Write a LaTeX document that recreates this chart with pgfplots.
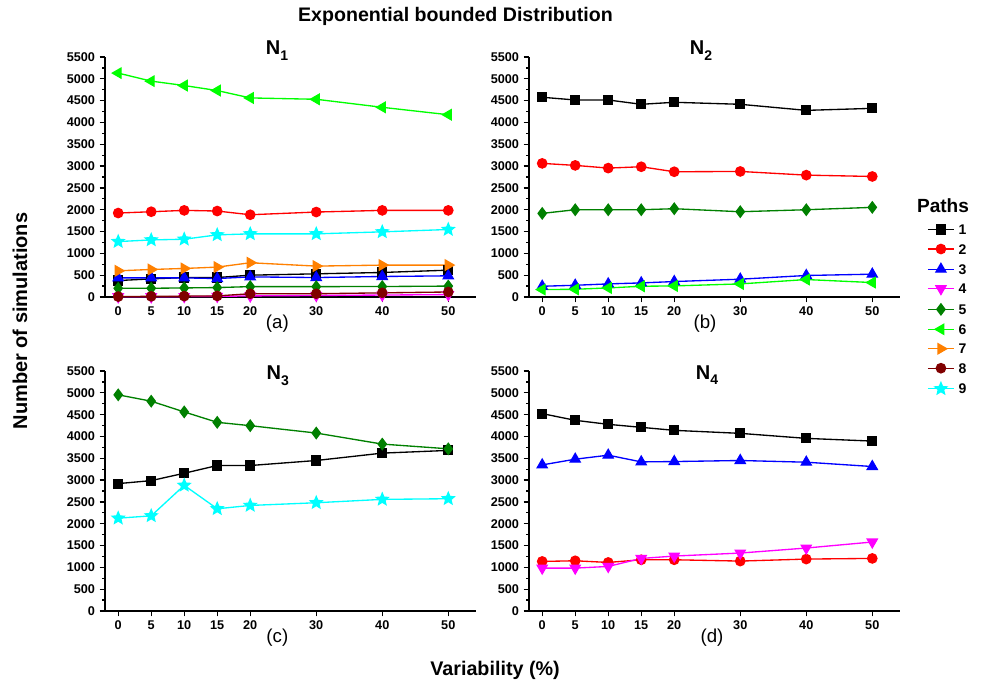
\documentclass[border=0pt]{standalone}
\usepackage{fontspec}
\setmainfont{Liberation Sans}
\usepackage{pgfplots}
\usepackage{pgfplotstable}
\pgfplotsset{compat=1.18}
\usetikzlibrary{plotmarks}

\definecolor{c1}{RGB}{0,0,0}
\definecolor{c2}{RGB}{255,0,0}
\definecolor{c3}{RGB}{0,0,255}
\definecolor{c4}{RGB}{255,0,255}
\definecolor{c5}{RGB}{0,128,0}
\definecolor{c6}{RGB}{0,255,0}
\definecolor{c7}{RGB}{255,128,0}
\definecolor{c8}{RGB}{128,0,0}
\definecolor{c9}{RGB}{0,255,255}

% filled five-pointed star
\pgfdeclareplotmark{fstar}{%
  \pgfpathmoveto{\pgfpointpolar{90}{\pgfplotmarksize}}%
  \pgfpathlineto{\pgfpointpolar{126}{0.45\pgfplotmarksize}}%
  \pgfpathlineto{\pgfpointpolar{162}{\pgfplotmarksize}}%
  \pgfpathlineto{\pgfpointpolar{198}{0.45\pgfplotmarksize}}%
  \pgfpathlineto{\pgfpointpolar{234}{\pgfplotmarksize}}%
  \pgfpathlineto{\pgfpointpolar{270}{0.45\pgfplotmarksize}}%
  \pgfpathlineto{\pgfpointpolar{306}{\pgfplotmarksize}}%
  \pgfpathlineto{\pgfpointpolar{342}{0.45\pgfplotmarksize}}%
  \pgfpathlineto{\pgfpointpolar{18}{\pgfplotmarksize}}%
  \pgfpathlineto{\pgfpointpolar{54}{0.45\pgfplotmarksize}}%
  \pgfpathclose
  \pgfusepathqfillstroke}

% N1
\pgfplotstableread{
x  p1  p2   p3  p4 p5  p6   p7  p8  p9
0  377 1924 438 5  200 5131 600 10  1270
5  415 1954 438 5  200 4947 631 15  1308
10 446 1985 438 10 208 4846 654 20  1324
15 446 1970 423 15 216 4731 685 25  1424
20 500 1885 461 25 238 4562 785 75  1447
30 531 1947 446 35 238 4531 708 75  1447
40 562 1985 470 45 240 4347 731 95  1493
50 615 1985 485 55 250 4177 731 115 1547
}\tabA
% N2
\pgfplotstableread{
x  p1   p2   p3  p5   p6
0  4577 3062 246 1916 170
5  4515 3016 269 2000 177
10 4515 2954 300 2000 208
15 4416 2985 323 2000 246
20 4462 2870 354 2023 254
30 4416 2877 408 1954 300
40 4277 2793 493 2000 400
50 4323 2762 523 2054 331
}\tabB
% N3
\pgfplotstableread{
x  p1   p5   p9
0  2919 4954 2127
5  2988 4808 2181
10 3157 4562 2880
15 3334 4324 2343
20 3334 4247 2419
30 3449 4078 2481
40 3618 3825 2558
50 3680 3717 2573
}\tabC
% N4
\pgfplotstableread{
x  p1   p2   p3   p4
0  4523 1136 3348 983
5  4370 1151 3479 983
10 4278 1113 3571 1021
15 4209 1174 3417 1205
20 4140 1174 3425 1259
30 4071 1144 3449 1328
40 3956 1190 3410 1443
50 3894 1205 3311 1581
}\tabD

\pgfplotsset{
  panel/.style={
    scale only axis, width=278.25pt, height=180pt,
    xmin=-2, xmax=54.2, ymin=0, ymax=5500,
    axis lines=left, axis line style={-, line width=1.2pt},
    tick align=outside, major tick length=4pt, minor tick length=2pt,
    tick style={black, line width=1pt},
    xtick={0,5,10,15,20,30,40,50},
    ytick={0,500,...,5500}, minor y tick num=1,
    scaled ticks=false,
    /pgf/number format/1000 sep={},
    /pgf/number format/assume math mode=true,
    ticklabel style={font=\bfseries\fontsize{9.5}{11}\selectfont},
    clip=false,
  },
  s1/.style={c1, line width=1pt, mark=square*, mark size=3.3pt, mark options={fill=c1, draw=c1}},
  s2/.style={c2, line width=1pt, mark=*, mark size=3.5pt, mark options={fill=c2, draw=c2}},
  s3/.style={c3, line width=1pt, mark=triangle*, mark size=4.3pt, mark options={fill=c3, draw=c3}},
  s4/.style={c4, line width=1pt, mark=triangle*, mark size=4.3pt, mark options={fill=c4, draw=c4, rotate=180}},
  s5/.style={c5, line width=1pt, mark=diamond*, mark size=4.1pt, mark options={fill=c5, draw=c5}},
  s6/.style={c6, line width=1pt, mark=triangle*, mark size=4.3pt, mark options={fill=c6, draw=c6, rotate=90}},
  s7/.style={c7, line width=1pt, mark=triangle*, mark size=4.3pt, mark options={fill=c7, draw=c7, rotate=-90}},
  s8/.style={c8, line width=1pt, mark=*, mark size=3.5pt, mark options={fill=c8, draw=c8}},
  s9/.style={c9, line width=1pt, mark=fstar, mark size=4.6pt, mark options={fill=c9, draw=c9}},
}

\begin{document}
\begin{tikzpicture}
\useasboundingbox (0,0) rectangle (738pt,514.5pt);

% (a) N1
\begin{axis}[panel, at={(78.75pt,291.75pt)}, anchor=south west,
  legend style={draw=none, fill=none, at={(2.2156,0.303)}, anchor=north west,
    inner sep=0pt, row sep=7.1pt, column sep=3pt,
    font=\bfseries\fontsize{10.5}{12}\selectfont,
    nodes={inner sep=0pt, text height=7.5pt, text depth=0pt}},
  legend cell align=left,
  legend image code/.code={\draw[mark repeat=2,mark phase=2] plot coordinates {(0pt,0pt)(9.75pt,0pt)(19.5pt,0pt)};}]
\addplot[s1] table[x=x,y=p1]{\tabA}; \addlegendentry{1}
\addplot[s2] table[x=x,y=p2]{\tabA}; \addlegendentry{2}
\addplot[s3] table[x=x,y=p3]{\tabA}; \addlegendentry{3}
\addplot[s4] table[x=x,y=p4]{\tabA}; \addlegendentry{4}
\addplot[s5] table[x=x,y=p5]{\tabA}; \addlegendentry{5}
\addplot[s6] table[x=x,y=p6]{\tabA}; \addlegendentry{6}
\addplot[s7] table[x=x,y=p7]{\tabA}; \addlegendentry{7}
\addplot[s8] table[x=x,y=p8]{\tabA}; \addlegendentry{8}
\addplot[s9] table[x=x,y=p9]{\tabA}; \addlegendentry{9}
\end{axis}

% (b) N2
\begin{axis}[panel, at={(396.75pt,291.75pt)}, anchor=south west]
\addplot[s1] table[x=x,y=p1]{\tabB};
\addplot[s2] table[x=x,y=p2]{\tabB};
\addplot[s3] table[x=x,y=p3]{\tabB};
\addplot[s5] table[x=x,y=p5]{\tabB};
\addplot[s6] table[x=x,y=p6]{\tabB};
\end{axis}

% (c) N3
\begin{axis}[panel, at={(78.75pt,56.25pt)}, anchor=south west]
\addplot[s1] table[x=x,y=p1]{\tabC};
\addplot[s5] table[x=x,y=p5]{\tabC};
\addplot[s9] table[x=x,y=p9]{\tabC};
\end{axis}

% (d) N4
\begin{axis}[panel, at={(396.75pt,56.25pt)}, anchor=south west]
\addplot[s1] table[x=x,y=p1]{\tabD};
\addplot[s2] table[x=x,y=p2]{\tabD};
\addplot[s3] table[x=x,y=p3]{\tabD};
\addplot[s4] table[x=x,y=p4]{\tabD};
\end{axis}

% titles and labels
\node[anchor=base, font=\bfseries\fontsize{14.7}{17}\selectfont] at (341.6pt,498pt) {Exponential bounded Distribution};
\tikzset{ptitle/.style={anchor=base, font=\bfseries\fontsize{15}{18}\selectfont}}
\newcommand\sub[1]{\raisebox{-0.28em}{\fontsize{10.5}{12}\selectfont #1}}
\node[ptitle] at (207.75pt,473.25pt) {N\sub{1}};
\node[ptitle] at (525.75pt,473.25pt) {N\sub{2}};
\node[ptitle] at (208.25pt,229.5pt) {N\sub{3}};
\node[ptitle] at (530.25pt,230.25pt) {N\sub{4}};

\tikzset{pcap/.style={font=\fontsize{14}{16}\selectfont}}
\node[pcap] at (208pt,271.5pt) {(a)};
\node[pcap] at (528.75pt,271.5pt) {(b)};
\node[pcap] at (208pt,36pt) {(c)};
\node[pcap] at (534pt,36pt) {(d)};

\node[font=\bfseries\fontsize{14.8}{17}\selectfont] at (371.25pt,12pt) {Variability (\%)};
\node[rotate=90, font=\bfseries\fontsize{15}{17}\selectfont] at (15pt,273.75pt) {Number of simulations};
\node[anchor=base, font=\bfseries\fontsize{14.3}{16}\selectfont] at (707.25pt,354.75pt) {Paths};
\end{tikzpicture}
\end{document}
